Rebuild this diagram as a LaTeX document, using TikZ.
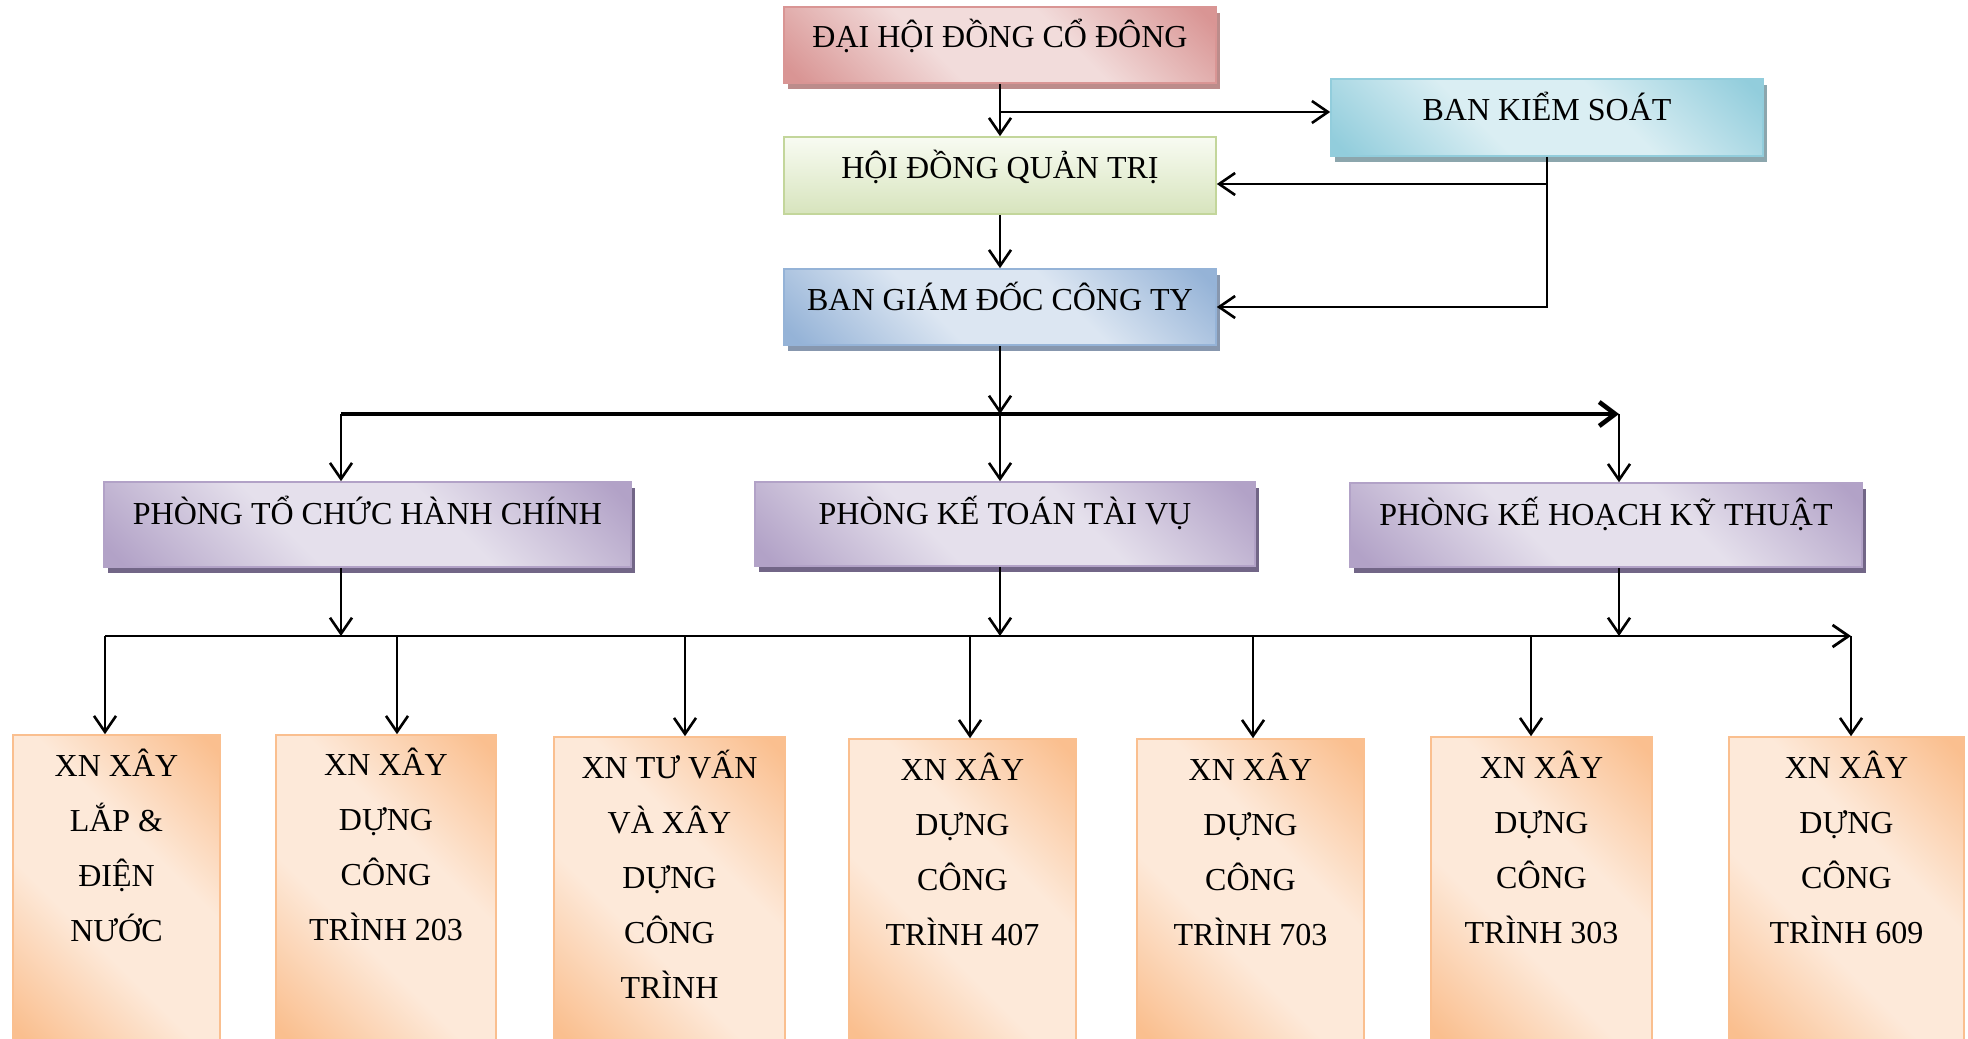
\documentclass[tikz,border=0pt]{standalone}
\usepackage{fontspec}
\setmainfont{Liberation Serif}
\usetikzlibrary{arrows.meta,shadows}

\definecolor{redE}{HTML}{D99594}
\definecolor{redL}{HTML}{F2DCDB}
\definecolor{redS}{HTML}{BC8C8B}
\definecolor{grnB}{HTML}{C3D69B}
\definecolor{grnT}{HTML}{F8FBF2}
\definecolor{grnD}{HTML}{D7E4BD}
\definecolor{bluE}{HTML}{95B3D7}
\definecolor{bluL}{HTML}{DCE6F2}
\definecolor{bluS}{HTML}{8797AE}
\definecolor{cyaE}{HTML}{92CDDC}
\definecolor{cyaL}{HTML}{DAEEF3}
\definecolor{cyaS}{HTML}{8CA6AD}
\definecolor{purE}{HTML}{B2A2C7}
\definecolor{purL}{HTML}{E5E0EC}
\definecolor{purS}{HTML}{726687}
\definecolor{orgE}{HTML}{FABF8F}
\definecolor{orgL}{HTML}{FDE9D9}

\pgfdeclareverticalshading{redsh}{100bp}{color(0bp)=(redE); color(17bp)=(redE); color(40bp)=(redL); color(60bp)=(redL); color(83bp)=(redE); color(100bp)=(redE)}
\pgfdeclareverticalshading{blush}{100bp}{color(0bp)=(bluE); color(17bp)=(bluE); color(40bp)=(bluL); color(60bp)=(bluL); color(83bp)=(bluE); color(100bp)=(bluE)}
\pgfdeclareverticalshading{cyash}{100bp}{color(0bp)=(cyaE); color(17bp)=(cyaE); color(40bp)=(cyaL); color(60bp)=(cyaL); color(83bp)=(cyaE); color(100bp)=(cyaE)}
\pgfdeclareverticalshading{pursh}{100bp}{color(0bp)=(purE); color(17bp)=(purE); color(40bp)=(purL); color(60bp)=(purL); color(83bp)=(purE); color(100bp)=(purE)}
\pgfdeclareverticalshading{orgsh}{100bp}{color(0bp)=(orgE); color(17bp)=(orgE); color(40bp)=(orgL); color(60bp)=(orgL); color(83bp)=(orgE); color(100bp)=(orgE)}

\begin{document}
\begin{tikzpicture}[x=0.5pt,y=-0.5pt,
  font=\fontsize{16}{27.5}\selectfont,
  box/.style={rectangle, draw=#1E, line width=0.8pt, inner sep=0pt,
    shading=#1sh, shading angle=-45},
  shad/.style={drop shadow={shadow xshift=2pt, shadow yshift=-3pt, fill=#1, opacity=1}},
  toptext/.style={text height=8pt, text depth=5pt},
  midtext/.style={text height=6pt, text depth=6pt},
  xntext/.style={anchor=north, align=center, inner sep=0pt},
  arr/.style={line width=1.3pt, -{Straight Barb[length=8pt,width=11pt]}},
  larr/.style={line width=1.4pt, -{Straight Barb[length=8pt,width=11pt]}},
  tarr/.style={line width=2.3pt, -{Straight Barb[length=8pt,width=12pt]}}
]
\useasboundingbox (0,0) rectangle (1968,1038);

% top level
\node[box=red, shad=redS, toptext, minimum width=216pt, minimum height=38pt] (dh) at (1000,45) {ĐẠI HỘI ĐỒNG CỔ ĐÔNG};
\node[box=cya, shad=cyaS, toptext, minimum width=216pt, minimum height=38.5pt] (bks) at (1547,117.5) {BAN KIỂM SOÁT};
\node[rectangle, draw=grnB, line width=0.8pt, inner sep=0pt, top color=grnT, bottom color=grnD,
      toptext, minimum width=216pt, minimum height=38.5pt] (hdqt) at (1000,175.5) {HỘI ĐỒNG QUẢN TRỊ};
\node[box=blu, shad=bluS, toptext, minimum width=216pt, minimum height=38pt] (bgd) at (1000,307) {BAN GIÁM ĐỐC CÔNG TY};

% departments
\node[box=pur, shad=purS, midtext, minimum width=263.5pt, minimum height=42.5pt] (ptchc) at (367.5,524.5) {PHÒNG TỔ CHỨC HÀNH CHÍNH};
\node[box=pur, shad=purS, midtext, minimum width=250pt, minimum height=42pt] (pkttv) at (1005,524) {PHÒNG KẾ TOÁN TÀI VỤ};
\node[box=pur, shad=purS, midtext, minimum width=256pt, minimum height=42pt] (pkhkt) at (1606,525) {PHÒNG KẾ HOẠCH KỸ THUẬT};

% enterprises
\node[box=org, minimum width=103.5pt, minimum height=155pt] (b1) at (116.5,890) {};
\node[box=org, minimum width=110pt, minimum height=155pt] (b2) at (386,890) {};
\node[box=org, minimum width=115.5pt, minimum height=154pt] (b3) at (669.5,891) {};
\node[box=org, minimum width=113.5pt, minimum height=153pt] (b4) at (962.5,892) {};
\node[box=org, minimum width=113.5pt, minimum height=153pt] (b5) at (1250.5,892) {};
\node[box=org, minimum width=110.5pt, minimum height=154pt] (b6) at (1541.5,891) {};
\node[box=org, minimum width=117.5pt, minimum height=154pt] (b7) at (1846.5,891) {};

\node[xntext] (t1) at (116.5,744) {\rule{0pt}{16pt}XN XÂY\\LẮP \&\\ĐIỆN\\NƯỚC};
\node[xntext] (t2) at (386,743) {\rule{0pt}{16pt}XN XÂY\\DỰNG\\CÔNG\\TRÌNH 203};
\node[xntext] (t3) at (669.5,746) {\rule{0pt}{16pt}XN TƯ VẤN\\VÀ XÂY\\DỰNG\\CÔNG\\TRÌNH};
\node[xntext] (t4) at (962.5,748) {\rule{0pt}{16pt}XN XÂY\\DỰNG\\CÔNG\\TRÌNH 407};
\node[xntext] (t5) at (1250.5,748) {\rule{0pt}{16pt}XN XÂY\\DỰNG\\CÔNG\\TRÌNH 703};
\node[xntext] (t6) at (1541.5,746) {\rule{0pt}{16pt}XN XÂY\\DỰNG\\CÔNG\\TRÌNH 303};
\node[xntext] (t7) at (1846.5,746) {\rule{0pt}{16pt}XN XÂY\\DỰNG\\CÔNG\\TRÌNH 609};

% connectors, top
\coordinate (j1) at (1000,112);
\coordinate (k1) at (1547,184);
\draw[arr] (dh.south) -- (hdqt.north);
\draw[arr] (j1) -- (j1 -| bks.west);
\draw[arr] (bks.south) |- (bgd.east);
\draw[arr] (k1) -- (k1 -| hdqt.east);
\draw[arr] (hdqt.south) -- (bgd.north);

% connectors, departments
\coordinate (m1) at (341,414);
\coordinate (m2) at (1000,414);
\coordinate (m3) at (1619,414);
\draw[arr] (bgd.south) -- (m2);
\draw[tarr] (m1) -- (m3);
\draw[arr] (m1) -- (m1 |- ptchc.north);
\draw[arr] (m2) -- (m2 |- pkttv.north);
\draw[arr] (m3) -- (m3 |- pkhkt.north);

% connectors, enterprises
\coordinate (n1) at (341,636);
\coordinate (n2) at (1000,636);
\coordinate (n3) at (1619,636);
\draw[arr] (n1 |- ptchc.south) -- (n1);
\draw[arr] (n2 |- pkttv.south) -- (n2);
\draw[arr] (n3 |- pkhkt.south) -- (n3);

\coordinate (p1) at (105,636);
\coordinate (p2) at (397,636);
\coordinate (p3) at (685,636);
\coordinate (p4) at (970,636);
\coordinate (p5) at (1253,636);
\coordinate (p6) at (1531,636);
\coordinate (p7) at (1851,636);
\draw[larr] (p1) -- (p7);
\draw[arr] (p1) -- (p1 |- b1.north);
\draw[arr] (p2) -- (p2 |- b2.north);
\draw[arr] (p3) -- (p3 |- b3.north);
\draw[arr] (p4) -- (p4 |- b4.north);
\draw[arr] (p5) -- (p5 |- b5.north);
\draw[arr] (p6) -- (p6 |- b6.north);
\draw[arr] (p7) -- (p7 |- b7.north);
\end{tikzpicture}
\end{document}
